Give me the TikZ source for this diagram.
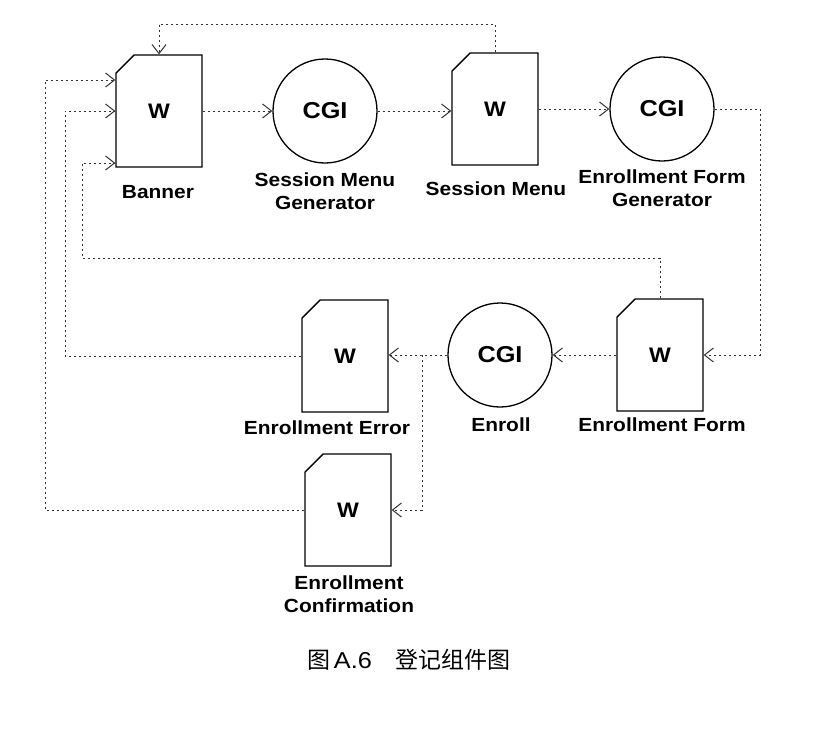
\documentclass[tikz,border=0pt]{standalone}
\usepackage{fontspec}
\setmainfont{Liberation Sans}[FakeStretch=1.1]
\newfontfamily\cjk{Noto Sans CJK SC}
\usetikzlibrary{arrows.meta,shapes.misc,positioning}

\tikzset{
  page/.style={chamfered rectangle, chamfered rectangle corners=north west,
    chamfered rectangle sep=11pt, draw, line width=1.3pt,
    minimum width=86pt, minimum height=112pt, inner sep=0pt,
    font=\fontsize{21}{22}\selectfont\bfseries},
  cgi/.style={circle, draw, line width=1.3pt, minimum size=104pt, inner sep=0pt,
    font=\fontsize{23}{24}\selectfont\bfseries},
  lbl/.style={align=center, inner sep=0pt, font=\fontsize{19}{23}\selectfont\bfseries},
  flow/.style={draw=black!80, line width=1pt, dash pattern=on 2pt off 3pt,
    -{Straight Barb[length=9pt,width=14pt,line width=1pt]}},
}

\begin{document}
\begin{tikzpicture}[x=1pt,y=-1pt]
  \useasboundingbox (0,0) rectangle (814,740);

  % top row
  \node[page] (banner) at (159,111) {W};
  \node[cgi]  (smg)    at (325,111) {CGI};
  \node[page] (sm)     at (495,109) {W};
  \node[cgi]  (efg)    at (662,109) {CGI};

  % middle row
  \node[page] (ee)     at (345,356) {W};
  \node[cgi]  (enroll) at (500,355) {CGI};
  \node[page] (ef)     at (660,355) {W};

  % bottom
  \node[page] (ec)     at (348,510) {W};

  % labels
  \node[lbl] (bannerl) at (158,192) {Banner};
  \node[lbl] (smgl)    at (325,191) {Session Menu\\Generator};
  \node[lbl] (sml)     at (496,189) {Session Menu};
  \node[lbl] (efgl)    at (662,188) {Enrollment Form\\Generator};
  \node[lbl] (eel)     at (327,428) {Enrollment Error};
  \node[lbl] (enrolll) at (501,425) {Enroll};
  \node[lbl] (efl)     at (662,425) {Enrollment Form};
  \node[lbl] (ecl)     at (349,594) {Enrollment\\Confirmation};

  \node[inner sep=0pt, font=\fontsize{23}{26}\selectfont] (cap) at (409,660)
    {{\cjk 图}\,A.6\hspace{24pt}{\cjk 登记组件图}};

  % forward flow
  \draw[flow] (banner.east) -- (smg.west);
  \draw[flow] (smg.east) -- (sm.west |- smg.east);
  \draw[flow] (sm.east) -- (efg.west);
  \draw[flow] (efg.east) -- (760,109) |- (ef.east);
  \draw[flow] (ef.west) -- (enroll.east);
  \coordinate (split) at (422,355);
  \draw[flow] (enroll.west) -- (split) -- (ee.east |- split);
  \draw[flow] (split) |- (ec.east);

  % back to banner
  \draw[flow] (sm.north) -- (sm.north |- 0,24) -| (banner.north);
  \draw[flow] (ef.north) -- (ef.north |- 0,258) -| (82,163) -- (banner.west |- 0,163);
  \draw[flow] (ee.west) -| (65,111) -- (banner.west);
  \draw[flow] (ec.west) -| (45,80) -- (banner.west |- 0,80);
\end{tikzpicture}
\end{document}
